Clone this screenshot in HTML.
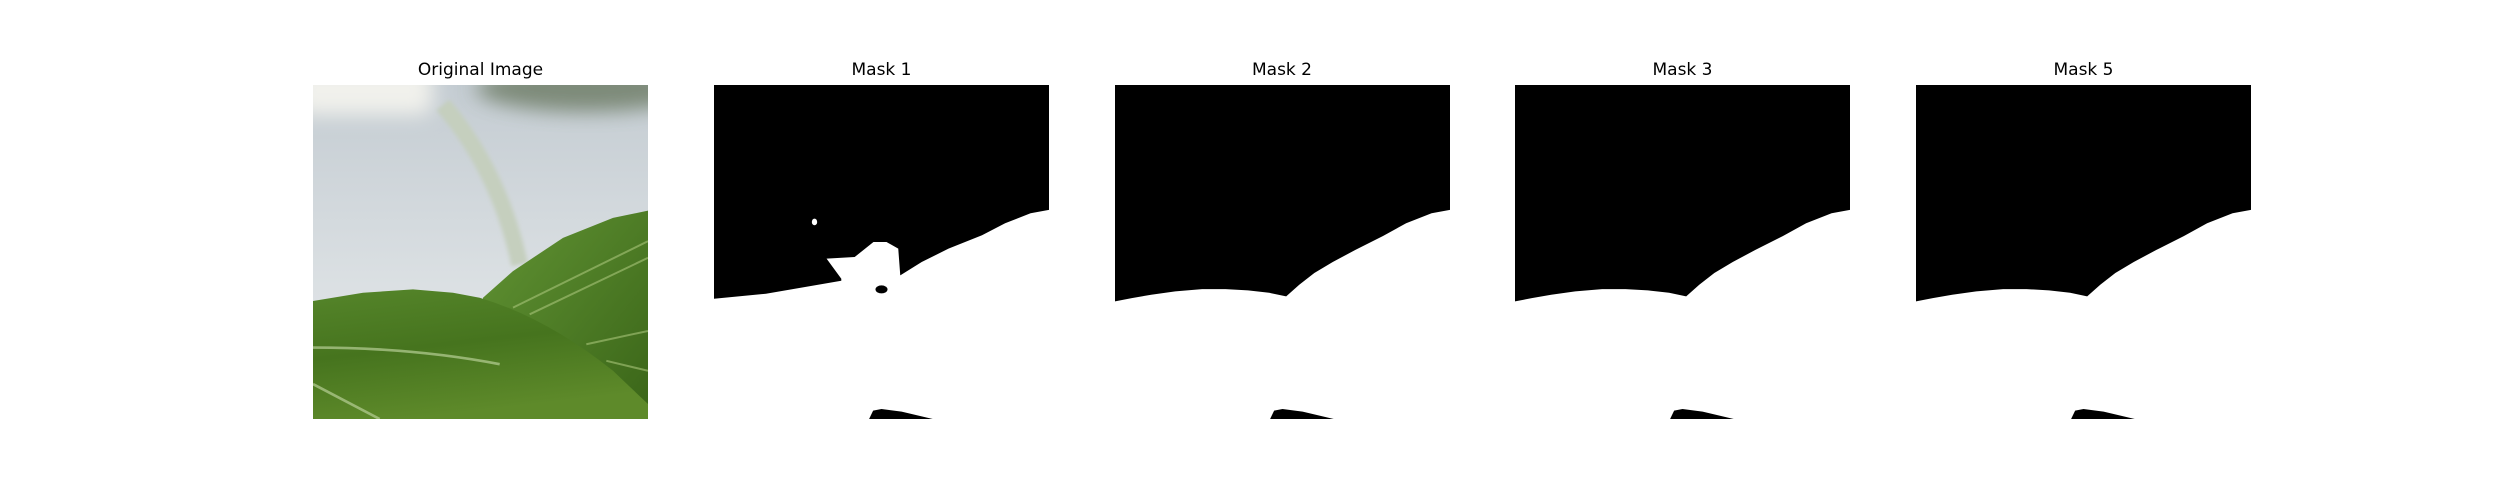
<!DOCTYPE html>
<html><head><meta charset="utf-8"><style>
html,body{margin:0;padding:0;background:#fff;width:2500px;height:500px;overflow:hidden}
.title{position:absolute;top:60px;width:335px;text-align:center;font:17px "DejaVu Sans","Liberation Sans",sans-serif;color:#000}
svg.panel{position:absolute;top:85px;width:335px;height:334px}
</style></head><body>
<div class="title" style="left:313px">Original Image</div>
<svg class="panel" style="left:313px" viewBox="0 0 1005 1005" preserveAspectRatio="none">
<defs>
<linearGradient id="bg" x1="0" y1="0" x2="0" y2="1"><stop offset="0" stop-color="#c4ccd2"/><stop offset="0.6" stop-color="#dbe0e3"/><stop offset="1" stop-color="#e2e6e8"/></linearGradient>
<linearGradient id="lf1" x1="0" y1="0" x2="0.3" y2="1"><stop offset="0" stop-color="#55852a"/><stop offset="0.5" stop-color="#46741e"/><stop offset="1" stop-color="#5e8a2a"/></linearGradient>
<linearGradient id="lf2" x1="0" y1="0" x2="1" y2="1"><stop offset="0" stop-color="#629434"/><stop offset="1" stop-color="#3a6518"/></linearGradient>
<filter id="bl" x="-50%" y="-50%" width="200%" height="200%"><feGaussianBlur stdDeviation="30"/></filter>
<filter id="bl2" x="-50%" y="-50%" width="200%" height="200%"><feGaussianBlur stdDeviation="6"/></filter>
</defs>
<rect width="1005" height="1005" fill="url(#bg)"/>
<ellipse cx="820" cy="10" rx="330" ry="70" fill="#6c7a64" filter="url(#bl)" opacity="0.8"/>
<rect x="-60" y="-60" width="420" height="150" rx="40" fill="#f1f1ec" filter="url(#bl)"/>
<path d="M390,60 Q560,260 620,540" stroke="#c5cfbe" stroke-width="50" fill="none" filter="url(#bl2)"/>
<path d="M510,640 L600,560 L750,460 L900,400 L1005,378 L1005,1005 L510,1005 Z" fill="url(#lf2)"/>
<path d="M600,670 L1005,470 M650,690 L1005,520 M820,780 L1005,740 M880,830 L1005,860" stroke="#a8c47a" stroke-width="6" fill="none" opacity="0.6"/>
<path d="M0,650 L150,625 L300,615 L420,625 L500,640 Q700,700 900,860 L1005,960 L1005,1005 L0,1005 Z" fill="url(#lf1)"/>
<path d="M0,790 Q300,790 560,840 M0,900 L200,1005" stroke="#b6cf95" stroke-width="8" fill="none" opacity="0.7"/>
</svg>

<div class="title" style="left:714px">Mask 1</div>
<div class="title" style="left:1114.5px">Mask 2</div>
<div class="title" style="left:1515px">Mask 3</div>
<div class="title" style="left:1916px">Mask 5</div>
<svg id="m1" class="panel" style="left:714px" viewBox="0 0 1 1" preserveAspectRatio="none"></svg>
<svg id="m2" class="panel" style="left:1114.5px" viewBox="0 0 1 1" preserveAspectRatio="none"></svg>
<svg id="m3" class="panel" style="left:1515px" viewBox="0 0 1 1" preserveAspectRatio="none"></svg>
<svg id="m5" class="panel" style="left:1916px" viewBox="0 0 1 1" preserveAspectRatio="none"></svg>
<script>
const smoothEdgeX = [0,0.05,0.108,0.18,0.26,0.33,0.397,0.46,0.511,0.55,0.595,0.65,0.717,0.8,0.869,0.945,1];
const smoothEdgeY = [0.648,0.638,0.628,0.618,0.611,0.611,0.615,0.622,0.633,0.598,0.563,0.53,0.494,0.452,0.414,0.384,0.374];
const mask1EdgeX = [0,0.155,0.38,0.38,0.336,0.42,0.476,0.515,0.55,0.556,0.62,0.70,0.8,0.869,0.945,1];
const mask1EdgeY = [0.64,0.625,0.586,0.58,0.52,0.515,0.47,0.47,0.49,0.57,0.53,0.49,0.45,0.414,0.384,0.374];
const bottomBlobX = [0.463,0.475,0.5,0.56,0.653];
const bottomBlobY = [1,0.975,0.97,0.978,1];
const ns='http://www.w3.org/2000/svg';
function poly(xs,ys){let p='0,0 ';for(let i=0;i<xs.length;i++)p+=xs[i]+','+ys[i]+' ';return p+'1,0';}
function draw(id,xs,ys,extra){
  const s=document.getElementById(id);
  const bg=document.createElementNS(ns,'rect');
  bg.setAttribute('width','1');bg.setAttribute('height','1');bg.setAttribute('fill','#fff');
  
  
  s.appendChild(bg);
  const p=document.createElementNS(ns,'polygon');
  p.setAttribute('points',poly(xs,ys));p.setAttribute('fill','#000');
  
  
  s.appendChild(p);
  const b=document.createElementNS(ns,'polygon');
  let pts='';for(let i=0;i<bottomBlobX.length;i++)pts+=bottomBlobX[i]+','+bottomBlobY[i]+' ';
  b.setAttribute('points',pts);b.setAttribute('fill','#000');
  
  
  s.appendChild(b);
  if(extra){
    const d=document.createElementNS(ns,'ellipse');
    d.setAttribute('cx','0.3');d.setAttribute('cy','0.41');d.setAttribute('rx','0.008');d.setAttribute('ry','0.01');d.setAttribute('fill','#fff');
    
    
    s.appendChild(d);
    const h=document.createElementNS(ns,'ellipse');
    h.setAttribute('cx','0.5');h.setAttribute('cy','0.612');h.setAttribute('rx','0.018');h.setAttribute('ry','0.012');h.setAttribute('fill','#000');
    
    
    s.appendChild(h);
  }
}
draw('m1',mask1EdgeX,mask1EdgeY,true);
draw('m2',smoothEdgeX,smoothEdgeY,false);
draw('m3',smoothEdgeX,smoothEdgeY,false);
draw('m5',smoothEdgeX,smoothEdgeY,false);
</script>
</body></html>
